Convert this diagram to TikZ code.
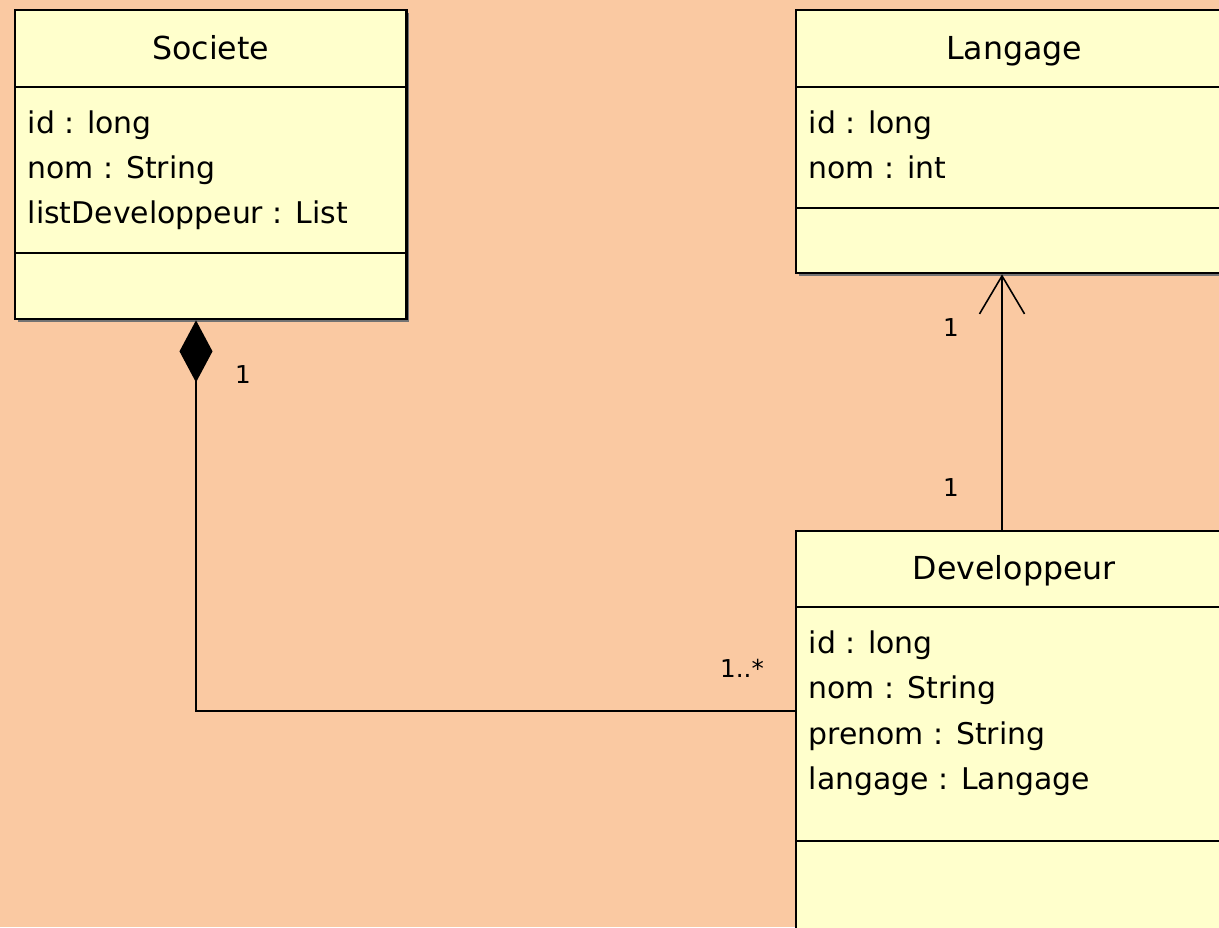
\documentclass[tikz,border=0pt]{standalone}
\usepackage{fontspec}
\setmainfont{DejaVu Sans}
\usetikzlibrary{arrows.meta,shadows}
\definecolor{bgpeach}{RGB}{250,201,162}
\definecolor{classfill}{RGB}{255,255,204}
\begin{document}
\begin{tikzpicture}
      [
      x=0.01cm, y=-0.01cm,
      classbox/.style={draw=black,line width=0.65pt,fill=classfill,rectangle,anchor=north west,inner sep=0pt,
        general shadow={fill=black!55,shadow xshift=0.8pt,shadow yshift=-0.8pt}},
      classname/.style={classbox,font=\fontsize{9}{11}\selectfont,text height=7pt,text depth=1pt},
      member/.style={anchor=base west,inner sep=0pt,font=\fontsize{8.5}{10}\selectfont},
      mult/.style={inner sep=0pt,font=\fontsize{7}{8}\selectfont},
      assoc/.style={line width=0.45pt}
      ]
      \path[use as bounding box, fill=bgpeach] (0,0) rectangle (1219,927);
      \clip (0,0) rectangle (1219,927);

      \node (societe) at (14,9) [classname, minimum width=3.91cm, minimum height=0.77cm] {Societe};
      \node (societeattr) at (14,86) [classbox, minimum width=3.91cm, minimum height=1.66cm] {};
      \node (societeops) at (14,252) [classbox, minimum width=3.91cm, minimum height=0.66cm] {};
      \node (soc1) at (27,133) [member] {id : long};
      \node (soc2) at (27,178) [member] {nom : String};
      \node (soc3) at (27,223) [member] {listDeveloppeur : List};

      \node (langage) at (795,9) [classname, minimum width=4.36cm, minimum height=0.77cm] {Langage};
      \node (langageattr) at (795,86) [classbox, minimum width=4.36cm, minimum height=1.21cm] {};
      \node (langageops) at (795,207) [classbox, minimum width=4.36cm, minimum height=0.65cm] {};
      \node (lang1) at (808,133) [member] {id : long};
      \node (lang2) at (808,178) [member] {nom : int};

      \node (dev) at (795,530) [classname, minimum width=4.36cm, minimum height=0.76cm] {Developpeur};
      \node (devattr) at (795,606) [classbox, minimum width=4.36cm, minimum height=2.34cm] {};
      \node (devops) at (795,840) [classbox, minimum width=4.36cm, minimum height=1.0cm] {};
      \node (dev1) at (808,653) [member] {id : long};
      \node (dev2) at (808,698) [member] {nom : String};
      \node (dev3) at (808,744) [member] {prenom : String};
      \node (dev4) at (808,789) [member] {langage : Langage};

      \draw [assoc, {Diamond[length=0.62cm,width=0.33cm]}-] (societeops.south -| 196,0) |- (devattr.west |- 0,711);
      \draw [assoc, -{Straight Barb[length=0.38cm,width=0.45cm]}] (dev.north -| 1002,0) -- (langageops.south -| 1002,0);

      \node (m1) at (243,375) [mult] {1};
      \node (m2) at (951,328) [mult] {1};
      \node (m3) at (951,488) [mult] {1};
      \node (m4) at (742,668) [mult] {1..*};
    \end{tikzpicture}
\end{document}
